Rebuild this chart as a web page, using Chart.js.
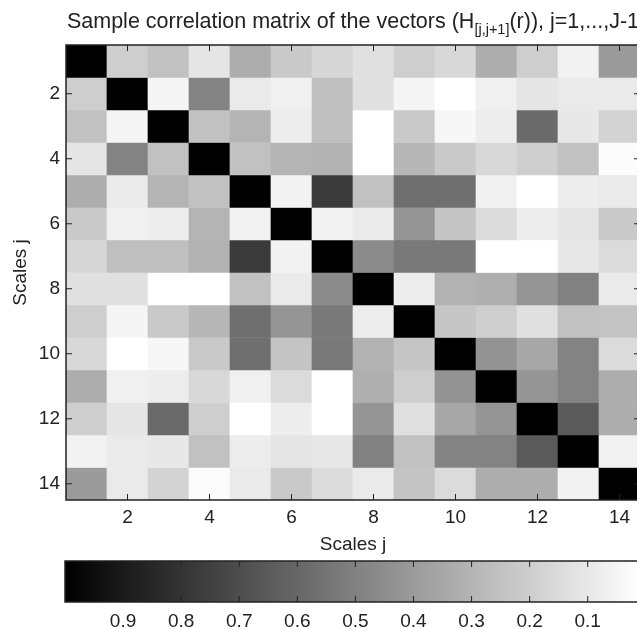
<!DOCTYPE html>
<html>
<head>
<meta charset="utf-8">
<script src="https://cdn.jsdelivr.net/npm/chart.js@4/dist/chart.umd.min.js"></script>
<style>
  html, body { margin: 0; padding: 0; background: #fff; overflow: hidden; width: 637px; height: 629px; }
  #caixa { position: relative; width: 645px; height: 629px; }
  #graficoMatriz { position: absolute; left: 0; top: 0; }
  #graficoBarra { position: absolute; left: 0; top: 555px; }
</style>
</head>
<body>
<div id="caixa">
  <canvas id="graficoMatriz" width="645" height="560"></canvas>
  <canvas id="graficoBarra" width="645" height="74"></canvas>
</div>
<script>
const escalas = [1, 2, 3, 4, 5, 6, 7, 8, 9, 10, 11, 12, 13, 14]
const ticksEscala = [2, 4, 6, 8, 10, 12, 14]
const ticksBarra = [0.9, 0.8, 0.7, 0.6, 0.5, 0.4, 0.3, 0.2, 0.1]
const minBarra = 0.01
const maxBarra = 1

// correlacoes[j-1][k-1] = correlacao entre as escalas j e k
const correlacoes = [
  [1.00, 0.20, 0.25, 0.11, 0.33, 0.22, 0.17, 0.13, 0.20, 0.16, 0.33, 0.20, 0.06, 0.40],
  [0.20, 1.00, 0.05, 0.49, 0.09, 0.07, 0.26, 0.13, 0.05, 0.01, 0.07, 0.11, 0.09, 0.09],
  [0.25, 0.05, 1.00, 0.25, 0.30, 0.08, 0.26, 0.01, 0.22, 0.04, 0.08, 0.59, 0.10, 0.18],
  [0.11, 0.49, 0.25, 1.00, 0.25, 0.30, 0.31, 0.01, 0.29, 0.22, 0.16, 0.20, 0.25, 0.02],
  [0.33, 0.09, 0.30, 0.25, 1.00, 0.06, 0.77, 0.25, 0.57, 0.57, 0.07, 0.01, 0.08, 0.09],
  [0.22, 0.07, 0.08, 0.30, 0.06, 1.00, 0.06, 0.09, 0.42, 0.24, 0.15, 0.08, 0.11, 0.22],
  [0.17, 0.26, 0.26, 0.31, 0.77, 0.06, 1.00, 0.46, 0.53, 0.53, 0.01, 0.01, 0.10, 0.15],
  [0.13, 0.13, 0.01, 0.01, 0.25, 0.09, 0.46, 1.00, 0.08, 0.31, 0.32, 0.42, 0.50, 0.09],
  [0.20, 0.05, 0.22, 0.29, 0.57, 0.42, 0.53, 0.08, 1.00, 0.23, 0.20, 0.13, 0.25, 0.24],
  [0.16, 0.01, 0.04, 0.22, 0.57, 0.24, 0.53, 0.31, 0.23, 1.00, 0.43, 0.35, 0.49, 0.15],
  [0.33, 0.07, 0.08, 0.16, 0.07, 0.15, 0.01, 0.32, 0.20, 0.43, 1.00, 0.42, 0.49, 0.33],
  [0.20, 0.11, 0.59, 0.20, 0.01, 0.08, 0.01, 0.42, 0.13, 0.35, 0.42, 1.00, 0.65, 0.33],
  [0.06, 0.09, 0.10, 0.25, 0.08, 0.11, 0.10, 0.50, 0.25, 0.49, 0.49, 0.65, 1.00, 0.06],
  [0.40, 0.09, 0.18, 0.02, 0.09, 0.22, 0.15, 0.09, 0.24, 0.15, 0.33, 0.33, 0.06, 1.00]
]

Chart.defaults.font.family = '"Liberation Sans", Arial, sans-serif'
Chart.defaults.font.size = 19
Chart.defaults.color = '#222'

function corCinza(valor){
    let g = Math.round(255 * (maxBarra - valor) / (maxBarra - minBarra))
    g = Math.max(0, Math.min(255, g))
    return `rgb(${g},${g},${g})`
}

function linha(ctx, x1, y1, x2, y2){
    ctx.beginPath()
    ctx.moveTo(x1, y1)
    ctx.lineTo(x2, y2)
    ctx.stroke()
}

const molduraMatriz = {
    id: 'molduraMatriz',
    afterDraw(chart){
        const {ctx, chartArea: a, scales: {x, y}} = chart
        ctx.save()
        ctx.strokeStyle = '#222'
        ctx.lineWidth = 1
        ticksEscala.forEach(t => {
            const px = x.getPixelForValue(t)
            const py = y.getPixelForValue(t)
            linha(ctx, px, a.top, px, a.top + 6)
            linha(ctx, px, a.bottom, px, a.bottom - 6)
            linha(ctx, a.left, py, a.left + 6, py)
            linha(ctx, a.right, py, a.right - 6, py)
        })
        ctx.lineWidth = 1.5
        ctx.strokeRect(a.left, a.top, a.right - a.left, a.bottom - a.top)

        // titulo com subscrito
        const partes = [
            {t: 'Sample correlation matrix of the vectors (H', f: '21.5px "Liberation Sans", Arial, sans-serif', dy: 0},
            {t: '[j,j+1]', f: '14.5px "Liberation Sans", Arial, sans-serif', dy: 6},
            {t: '(r)), j=1,...,J-1', f: '21.5px "Liberation Sans", Arial, sans-serif', dy: 0}
        ]
        let largura = 0
        partes.forEach(p => { ctx.font = p.f; largura += ctx.measureText(p.t).width })
        let px = (a.left + a.right) / 2 - largura / 2
        ctx.fillStyle = '#222'
        ctx.textBaseline = 'alphabetic'
        partes.forEach(p => {
            ctx.font = p.f
            ctx.fillText(p.t, px, 28 + p.dy)
            px += ctx.measureText(p.t).width
        })
        ctx.restore()
    }
}

const conjuntos = correlacoes.map((valores, i) => ({
    data: valores.map((v, k) => ({x: escalas[k], y: [escalas[i] - 0.5, escalas[i] + 0.5]})),
    backgroundColor: valores.map(corCinza),
    borderWidth: 0,
    grouped: false,
    barPercentage: 1,
    categoryPercentage: 1
}))

const graficoMatriz = new Chart(document.getElementById('graficoMatriz'), {
    type: 'bar',
    data: { datasets: conjuntos },
    options: {
        responsive: false,
        animation: false,
        layout: { padding: { top: 45, right: 5, left: 0, bottom: 0 } },
        plugins: { legend: { display: false }, tooltip: { enabled: false } },
        scales: {
            x: {
                type: 'linear',
                min: 0.5,
                max: 14.5,
                offset: false,
                grid: { display: false, drawTicks: false },
                border: { display: false },
                afterBuildTicks: scale => { scale.ticks = ticksEscala.map(v => ({value: v})) },
                afterFit: scale => { scale.height = 60 },
                ticks: { padding: 6, maxRotation: 0, autoSkip: false },
                title: { display: true, text: 'Scales j', padding: { top: 0, bottom: 4 } }
            },
            y: {
                type: 'linear',
                min: 0.5,
                max: 14.5,
                reverse: true,
                grid: { display: false, drawTicks: false },
                border: { display: false },
                afterBuildTicks: scale => { scale.ticks = ticksEscala.map(v => ({value: v})) },
                afterFit: scale => { scale.width = 66 },
                ticks: { padding: 6, autoSkip: false },
                title: { display: true, text: 'Scales j', padding: { top: 9, bottom: 0 } }
            }
        }
    },
    plugins: [molduraMatriz]
})

const molduraBarra = {
    id: 'molduraBarra',
    afterDraw(chart){
        const {ctx, chartArea: a, scales: {x}} = chart
        ctx.save()
        ctx.strokeStyle = '#222'
        ctx.lineWidth = 1
        ticksBarra.forEach(t => {
            const px = x.getPixelForValue(t)
            linha(ctx, px, a.top, px, a.top + 6)
            linha(ctx, px, a.bottom, px, a.bottom - 6)
        })
        ctx.lineWidth = 1.5
        ctx.strokeRect(a.left, a.top, a.right - a.left, a.bottom - a.top)
        ctx.restore()
    }
}

const graficoBarra = new Chart(document.getElementById('graficoBarra'), {
    type: 'bar',
    data: {
        labels: ['barra'],
        datasets: [{
            data: [[minBarra, maxBarra]],
            backgroundColor: contexto => {
                const grafico = contexto.chart
                if (!grafico.chartArea) return '#888'
                const escala = grafico.scales.x
                const grad = grafico.ctx.createLinearGradient(escala.getPixelForValue(maxBarra), 0, escala.getPixelForValue(minBarra), 0)
                grad.addColorStop(0, '#000')
                grad.addColorStop(1, '#fff')
                return grad
            },
            borderWidth: 0,
            barPercentage: 1,
            categoryPercentage: 1
        }]
    },
    options: {
        indexAxis: 'y',
        responsive: false,
        animation: false,
        layout: { padding: { top: 6, right: 5, left: 65, bottom: 0 } },
        plugins: { legend: { display: false }, tooltip: { enabled: false } },
        scales: {
            x: {
                type: 'linear',
                min: minBarra,
                max: maxBarra,
                reverse: true,
                grid: { display: false, drawTicks: false },
                border: { display: false },
                afterBuildTicks: scale => { scale.ticks = ticksBarra.map(v => ({value: v})) },
                afterFit: scale => { scale.height = 27 },
                ticks: { padding: 8, maxRotation: 0, autoSkip: false, callback: v => v.toFixed(1) }
            },
            y: { display: false }
        }
    },
    plugins: [molduraBarra]
})
</script>
</body>
</html>
